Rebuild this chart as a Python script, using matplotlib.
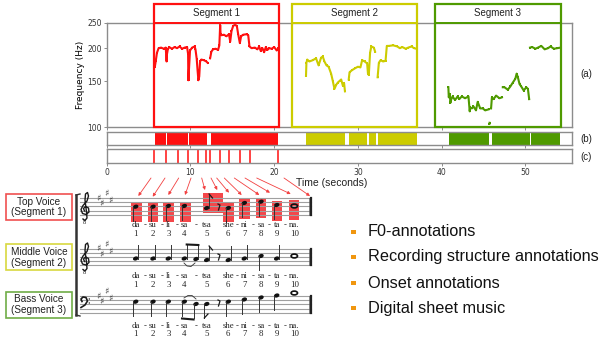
import matplotlib
matplotlib.use('Agg')
import matplotlib.pyplot as plt
from matplotlib.patches import Rectangle, Ellipse

nan = float('nan')
RED = '#ff1010'
YEL = '#cccc00'
GRN = '#4f9a00'
GREY = '#8c8c8c'
INK = '#1a1a1a'

# F0 traces
t1 = [5.75,5.85,6.0,6.2,6.5,6.8,7.05,7.15,7.2,7.3,7.45,7.8,8.1,8.4,8.7,9.0,9.3,9.6,9.72,9.75,9.78,9.82,9.95,10.2,10.5,10.6,10.75,10.85,10.95,11.05,11.15,11.3,11.6,11.9,12.05,nan,
      12.35,12.5,12.7,13.0,13.3,13.45,13.55,13.6,13.7,14.0,14.3,14.6,14.75,14.9,15.1,15.35,15.55,15.7,15.9,16.05,16.3,16.7,16.9,17.05,17.3,17.7,18.0,18.2,18.4,18.6,18.8,19.0,19.2,19.4,19.7,20.0,20.3,20.5]
f1 = [170,178,192,200,201,199,201,178,190,198,202,199,202,200,203,199,201,202,190,151,152,165,196,201,203,198,182,165,151,156,178,181,180,178,176,nan,
      183,194,198,199,197,205,245,226,224,225,222,226,212,232,243,246,242,226,209,222,225,226,224,203,200,201,198,203,195,200,193,202,197,200,199,202,196,200]
t2 = [23.8,23.85,23.95,24.2,24.6,25.0,25.3,25.6,25.8,26.0,26.25,26.5,26.8,27.0,27.2,27.4,27.6,27.8,28.0,28.2,28.35,28.45,nan,
      28.9,29.0,29.3,29.7,30.0,30.3,30.5,30.8,31.1,31.2,31.3,31.45,31.6,31.9,32.05,nan,
      32.35,32.5,32.7,33.0,33.3,33.45,33.7,34.2,34.7,35.0,35.3,35.7,36.0,36.4,36.7,37.0]
f2 = [157,176,181,178,180,183,172,184,186,178,172,170,160,150,140,145,148,150,152,144,147,137,nan,
      152,162,165,168,170,169,180,178,175,160,158,192,203,201,194,nan,
      155,176,180,178,179,204,204,205,203,200,202,199,201,203,200,199]
t3 = [40.8,40.85,40.95,41.05,41.15,41.3,41.6,41.9,42.1,42.4,42.8,43.2,43.35,43.4,43.6,43.8,44.1,44.3,44.6,44.9,45.2,45.6,nan,45.7,45.72,nan,
      45.9,46.0,46.2,46.5,46.9,47.2,nan,47.3,47.5,47.9,48.2,48.5,48.8,48.95,49.1,49.3,49.5,49.8,50.1,50.3,50.45,nan,
      50.55,50.8,51.2,51.5,51.9,52.3,52.7,53.0,53.4,53.8,54.2]
f3 = [142,130,134,124,128,131,127,131,128,131,129,131,115,119,118,120,116,125,118,118,116,117,nan,103,104,nan,
      118,130,128,132,129,130,nan,142,142,139,143,148,153,160,155,146,143,138,142,140,128,nan,
      201,202,199,201,204,198,200,203,199,200,201]

seg_names = ['Segment 1', 'Segment 2', 'Segment 3']
seg_colors = [RED, YEL, GRN]
seg_spans = [(5.68, 20.6), (22.1, 37.05), (39.25, 54.2)]

# recording structure blocks (start, end) in seconds
struct_red = [(5.8, 7.1), (7.25, 9.72), (9.78, 11.95), (12.4, 14.6), (14.66, 20.45)]
struct_yel = [(23.8, 28.45), (28.9, 31.1), (31.3, 32.2), (32.4, 37.0)]
struct_grn = [(40.85, 45.7), (46.0, 50.6), (50.66, 54.1)]

onsets = [5.7, 7.1, 8.5, 9.75, 10.9, 11.9, 12.3, 13.5, 14.6, 15.9, 17.1, 20.5]

# score, pixel positions of the reference
note_x = [135.7, 153, 168.3, 184.3, 206.7, 228.3, 244.3, 261, 276.7, 294.3]
top_y = [206.7, 206.7, 206, 206, 208, 208, 203, 201.7, 205, 206]
mid_y = [258.5, 258.5, 258.5, 258.5, 260, 260, 258.5, 256, 258.5, 256]
bass_y = [301.7, 301.7, 301.7, 301.7, 304, 301.7, 299.5, 297.5, 295.5, 293]
lyrics = ['da', 'su', 'li', 'sa', 'tsa', 'she', 'ni', 'sa', 'ta', 'na.']
numbers = ['1', '2', '3', '4', '5', '6', '7', '8', '9', '10']
bullets = ['F0-annotations', 'Recording structure annotations', 'Onset annotations', 'Digital sheet music']

fig = plt.figure(figsize=(6, 3.41), dpi=100)
W, H = 600.0, 341.0

def pxaxes(x0, y0, x1, y1):
    return fig.add_axes([x0/W, 1-y1/H, (x1-x0)/W, (y1-y0)/H])

ax1 = pxaxes(106.7, 22.7, 572.3, 127.3)
ax2 = pxaxes(106.7, 131.7, 572.3, 145)
ax3 = pxaxes(106.7, 149.3, 572.3, 162.7)

for a in (ax1, ax2, ax3):
    a.set_xlim(0, 55.6)
    for s in a.spines.values():
        s.set_color(GREY)
        s.set_linewidth(1)
    a.tick_params(colors='#333333', color=GREY, length=2, width=0.7, labelsize=5.5, pad=1.5)
    a.set_xticks([0, 10, 20, 30, 40, 50])
    a.set_yticks([])

ax1.set_yscale('log')
ax1.set_ylim(100, 250)
ax1.set_yticks([100, 150, 200, 250])
ax1.set_yticklabels(['100', '150', '200', '250'])
ax1.minorticks_off()
ax1.set_ylabel('Frequency (Hz)', fontsize=6.5, labelpad=2)
ax1.tick_params(labelbottom=False)
ax2.tick_params(labelbottom=False)

ax1.plot(t1, f1, color=RED, lw=1.5, marker='s', ms=2, mew=0)
ax1.plot(t2, f2, color=YEL, lw=1.5, marker='s', ms=2, mew=0)
ax1.plot(t3, f3, color=GRN, lw=1.5, marker='s', ms=2, mew=0)

for name, col, (a, b) in zip(seg_names, seg_colors, seg_spans):
    tr = ax1.get_xaxis_transform()
    ax1.add_patch(Rectangle((a, 0), b-a, 1.179, transform=tr, fill=False, ec=col, lw=1.6, clip_on=False, zorder=5))
    ax1.plot([a, b], [1, 1], transform=tr, color=col, lw=1.4, clip_on=False, zorder=5)
    ax1.text((a+b)/2, 1.09, name, transform=tr, ha='center', va='center', fontsize=7, family='Liberation Sans', color='#222222')

for blocks, col in ((struct_red, RED), (struct_yel, YEL), (struct_grn, GRN)):
    for a, b in blocks:
        ax2.axvspan(a, b, color=col, lw=0)
for t in onsets:
    ax3.axvline(t, color=RED, lw=1.1)

ax = fig.add_axes([0, 0, 1, 1], zorder=-1)
ax.set_xlim(0, W)
ax.set_ylim(H, 0)
ax.axis('off')
over = fig.add_axes([0, 0, 1, 1], zorder=10)
over.set_xlim(0, W)
over.set_ylim(H, 0)
over.axis('off')
over.patch.set_alpha(0)

over.text(295.7, 183, 'Time (seconds)', fontsize=7.5, family='Liberation Sans', color='#222222', va='center')
for lab, y in (('(a)', 74), ('(b)', 139), ('(c)', 156.5)):
    over.text(580, y, lab, fontsize=7, family='Liberation Sans', color='#222222', va='center')

# staves
staff_top = [198, 248.5, 296]
for y0 in staff_top:
    for i in range(5):
        ax.plot([80, 311], [y0+i*4.2]*2, color='#a0a0a0', lw=0.8)
    ax.plot([311, 311], [y0, y0+16.8], color='#222222', lw=1.6)
    ax.plot([308.8, 308.8], [y0, y0+16.8], color='#555555', lw=0.5)
ax.plot([76, 76], [195, 315], color='#333333', lw=1.8)
ax.plot([76, 80], [195, 194], color='#333333', lw=1)
ax.plot([76, 80], [315, 316], color='#333333', lw=1)

# red note boxes
box_x = [131, 148, 163.3, 180, 203, 223.3, 239.3, 256, 272, 289]
box_w = [10.7, 10.3, 10.7, 10.7, 20.3, 10.7, 10.7, 10, 10.3, 10.3]
box_y = [201.7, 201.7, 201.7, 201.7, 192.7, 201.7, 199.3, 198.3, 200.7, 200]
for x, w, y in zip(box_x, box_w, box_y):
    ax.add_patch(Rectangle((x, y), w, 20, fc='#f4474a', ec='none', zorder=1))

# clefs: no installed font has these signs, so they are stroked by hand
treble_x = [83,85,87,86.5,85,85.5,87.5,88.5,87,83,81,82.5,86,89,88.5,85.5,83.5,84.5]
treble_y = [219,220.5,218,212,200,194,192.5,196,201,205.5,209.5,213.5,214.5,212,208,206.5,208.5,211]
for off in (0, 50.5):
    ax.plot(treble_x, [y+off for y in treble_y], color=INK, lw=1.0, zorder=3)
    ax.text(84.7, 222+off, '8', fontsize=4.5, family='Liberation Serif', ha='center', va='center', color=INK)
bass_x = [81,85,87.5,86,83,81,82]
bass_y_clef = [307.5,305,301,297.5,297,299,301.5]
ax.plot(bass_x, bass_y_clef, color=INK, lw=1.2, zorder=3)
ax.add_patch(Ellipse((89.3, 299), 1.4, 1.4, fc=INK, ec='none'))
ax.add_patch(Ellipse((89.3, 303), 1.4, 1.4, fc=INK, ec='none'))

# key signatures
for y0 in staff_top:
    for dx, dy in ((98, 0.3), (101.5, 6), (106.5, -4), (110.5, 2.7)):
        ax.text(dx, y0+dy, '\u266f', fontsize=6.5, ha='center', va='center', color='#333333')

def draw_note(x, y, up, whole=False):
    if whole:
        ax.add_patch(Ellipse((x, y), 6.4, 3.8, fc='none', ec='#111111', lw=1.2, zorder=3))
        return
    ax.add_patch(Ellipse((x, y), 5.6, 4, angle=-20, fc='#111111', ec='none', zorder=3))
    if up:
        ax.plot([x+2.4, x+2.4], [y, y-14], color='#333333', lw=0.7, zorder=3)
    else:
        ax.plot([x-2.4, x-2.4], [y, y+14], color='#333333', lw=0.7, zorder=3)

for i, (x, yt, ym, yb) in enumerate(zip(note_x, top_y, mid_y, bass_y)):
    whole = i == 9
    draw_note(x, yt, i == 4, whole)
    draw_note(x, ym, i != 7, whole)
    draw_note(x, yb, False, whole)

# beamed and flagged bits in the three voices
ax.plot([209.1, 212.5], [194, 198], color=INK, lw=0.9, zorder=3)
ax.plot([218, 220, 218.5], [204, 205, 210], color=INK, lw=0.9, zorder=3)
draw_note(196, 259, True)
ax.plot([186.7, 198.4], [244.5, 245], color=INK, lw=1.5, zorder=3)
ax.plot([209.1, 212.5], [246, 250], color=INK, lw=0.9, zorder=3)
ax.plot([218, 220, 218.5], [254, 255, 260], color=INK, lw=0.9, zorder=3)
ax.plot([184, 187, 191, 195], [263, 266, 266.5, 263], color='#333333', lw=0.6, zorder=3)
draw_note(196, 304, False)
ax.plot([182, 193.6], [318.5, 319.5], color=INK, lw=1.5, zorder=3)
ax.plot([204.3, 208], [318, 314], color=INK, lw=0.9, zorder=3)
ax.plot([218, 220, 218.5], [300, 301, 306], color=INK, lw=0.9, zorder=3)
ax.plot([184, 188, 192, 196], [298, 295.5, 295.5, 299], color='#333333', lw=0.6, zorder=3)

# lyrics
hyphen_x = [145, 162, 177, 196, 237, 253, 269, 285]
for y1, y2 in ((225, 233.5), (276, 285), (325.7, 334)):
    for x, l, n in zip(note_x, lyrics, numbers):
        ax.text(x, y1, l, fontsize=6.3, family='Liberation Serif', ha='center', va='center', color='#222222')
        ax.text(x, y2, n, fontsize=6.3, family='Liberation Serif', ha='center', va='center', color='#222222')
    for x in hyphen_x:
        ax.text(x, y1, '-', fontsize=6.3, family='Liberation Serif', ha='center', va='center', color='#222222')

# arrows from onsets to notes
arrow_start = [151, 165, 178.7, 191, 201.7, 211, 216.7, 224.3, 234.3, 245, 256.7, 284]
arrow_end = [(138.3, 196), (152.7, 196.7), (168.3, 195), (185, 195), (205, 190), (217.3, 190), (229, 192.7), (241.7, 195), (259.3, 195), (270, 192.7), (290.7, 194), (310, 196)]
for x0, (x1, y1) in zip(arrow_start, arrow_end):
    over.annotate('', xy=(x1, y1), xytext=(x0, 178),
                  arrowprops=dict(arrowstyle='-|>', color='#f24040', lw=0.6, mutation_scale=4.5, shrinkA=0, shrinkB=0))

# voice boxes
voices = [('Top Voice\n(Segment 1)', 194, '#f05050'), ('Middle Voice\n(Segment 2)', 244.3, '#d8d840'), ('Bass Voice\n(Segment 3)', 291.7, '#70ad47')]
for txt, y, col in voices:
    over.add_patch(Rectangle((5.7, y), 66.6, 26, fc='white', ec=col, lw=1.2))
    over.text(39, y+13, txt, fontsize=7.2, family='Liberation Sans', ha='center', va='center', color='#222222', linespacing=1.1)

# bullet list
for lab, y in zip(bullets, [232, 257, 283, 308]):
    over.add_patch(Rectangle((351, y-2.5), 4.5, 4.5, fc='#f0960f', ec='none'))
    over.text(368, y, lab, fontsize=11.7, family='Liberation Sans', va='center', color='#111111')

fig.savefig('out.png', dpi=100)
